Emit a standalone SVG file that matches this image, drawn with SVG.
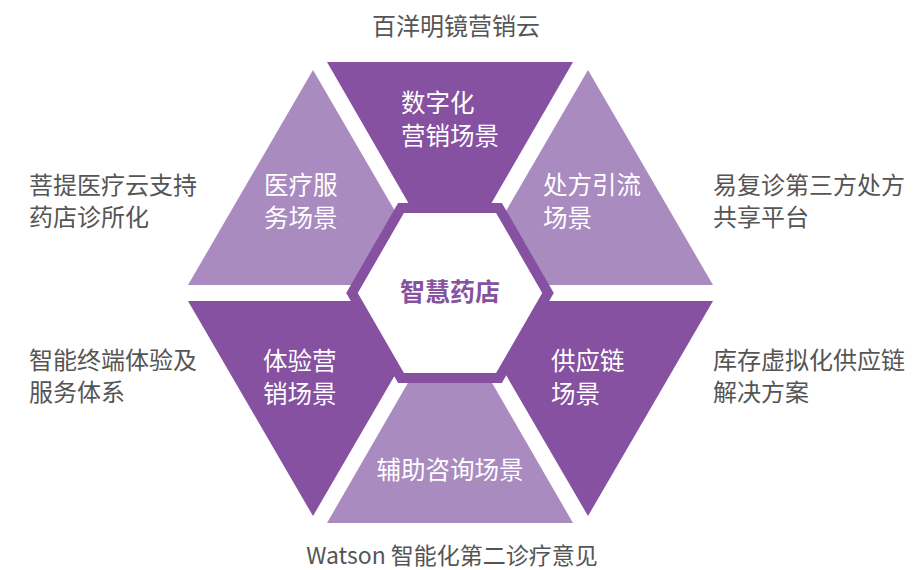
<svg xmlns="http://www.w3.org/2000/svg" width="913" height="570" viewBox="0 0 913 570">
<style>
.dark{fill:#8551A0}
.light{fill:#A98BC0}
.in{font-family:"Noto Sans CJK SC","Noto Sans",sans-serif;font-size:24.5px;fill:#FFFFFF}
.out{font-family:"Noto Sans CJK SC","Noto Sans",sans-serif;font-size:24px;fill:#555555}
.cap{font-family:"Noto Sans CJK SC","Noto Sans",sans-serif;font-size:23px;fill:#555555}
.hub{font-family:"Noto Sans CJK SC","Noto Sans",sans-serif;font-size:25px;font-weight:bold;fill:#8551A0}
</style>
<rect width="913" height="570" fill="#FFFFFF"/>
<g id="top">
<polygon class="dark" points="327,62 573,62 450,275"/>
<text class="in" x="401" y="112">数字化</text>
<text class="in" x="401" y="145">营销场景</text>
</g>
<g id="upper-left">
<polygon class="light" points="313,70 188,285 438,285"/>
<text class="in" x="264" y="194">医疗服</text>
<text class="in" x="264" y="227">务场景</text>
</g>
<g id="upper-right">
<polygon class="light" points="588,70 463,285 713,285"/>
<text class="in" x="543" y="194">处方引流</text>
<text class="in" x="543" y="227">场景</text>
</g>
<g id="lower-left">
<polygon class="dark" points="188,301 438,301 313,516"/>
<text class="in" x="263" y="370">体验营</text>
<text class="in" x="263" y="403">销场景</text>
</g>
<g id="lower-right">
<polygon class="dark" points="463,301 713,301 588,516"/>
<text class="in" x="551" y="370">供应链</text>
<text class="in" x="551" y="403">场景</text>
</g>
<g id="bottom">
<polygon class="light" points="327,523 573,523 450,310"/>
<text class="in" x="450" y="479" text-anchor="middle">辅助咨询场景</text>
</g>
<g id="hub">
<polygon points="352,293 401,208 499,208 548,293 499,378 401,378" fill="#FFFFFF" stroke="#8551A0" stroke-width="10" stroke-linejoin="miter"/>
<text class="hub" x="450" y="301" text-anchor="middle">智慧药店</text>
</g>
<g id="labels">
<text class="out" x="456" y="35" text-anchor="middle">百洋明镜营销云</text>
<text class="out" x="29" y="194">菩提医疗云支持</text>
<text class="out" x="29" y="226">药店诊所化</text>
<text class="out" x="713" y="194">易复诊第三方处方</text>
<text class="out" x="713" y="226">共享平台</text>
<text class="out" x="29" y="369">智能终端体验及</text>
<text class="out" x="29" y="401">服务体系</text>
<text class="out" x="713" y="369">库存虚拟化供应链</text>
<text class="out" x="713" y="401">解决方案</text>
<text class="cap" x="452" y="564" text-anchor="middle">Watson 智能化第二诊疗意见</text>
</g>
</svg>
